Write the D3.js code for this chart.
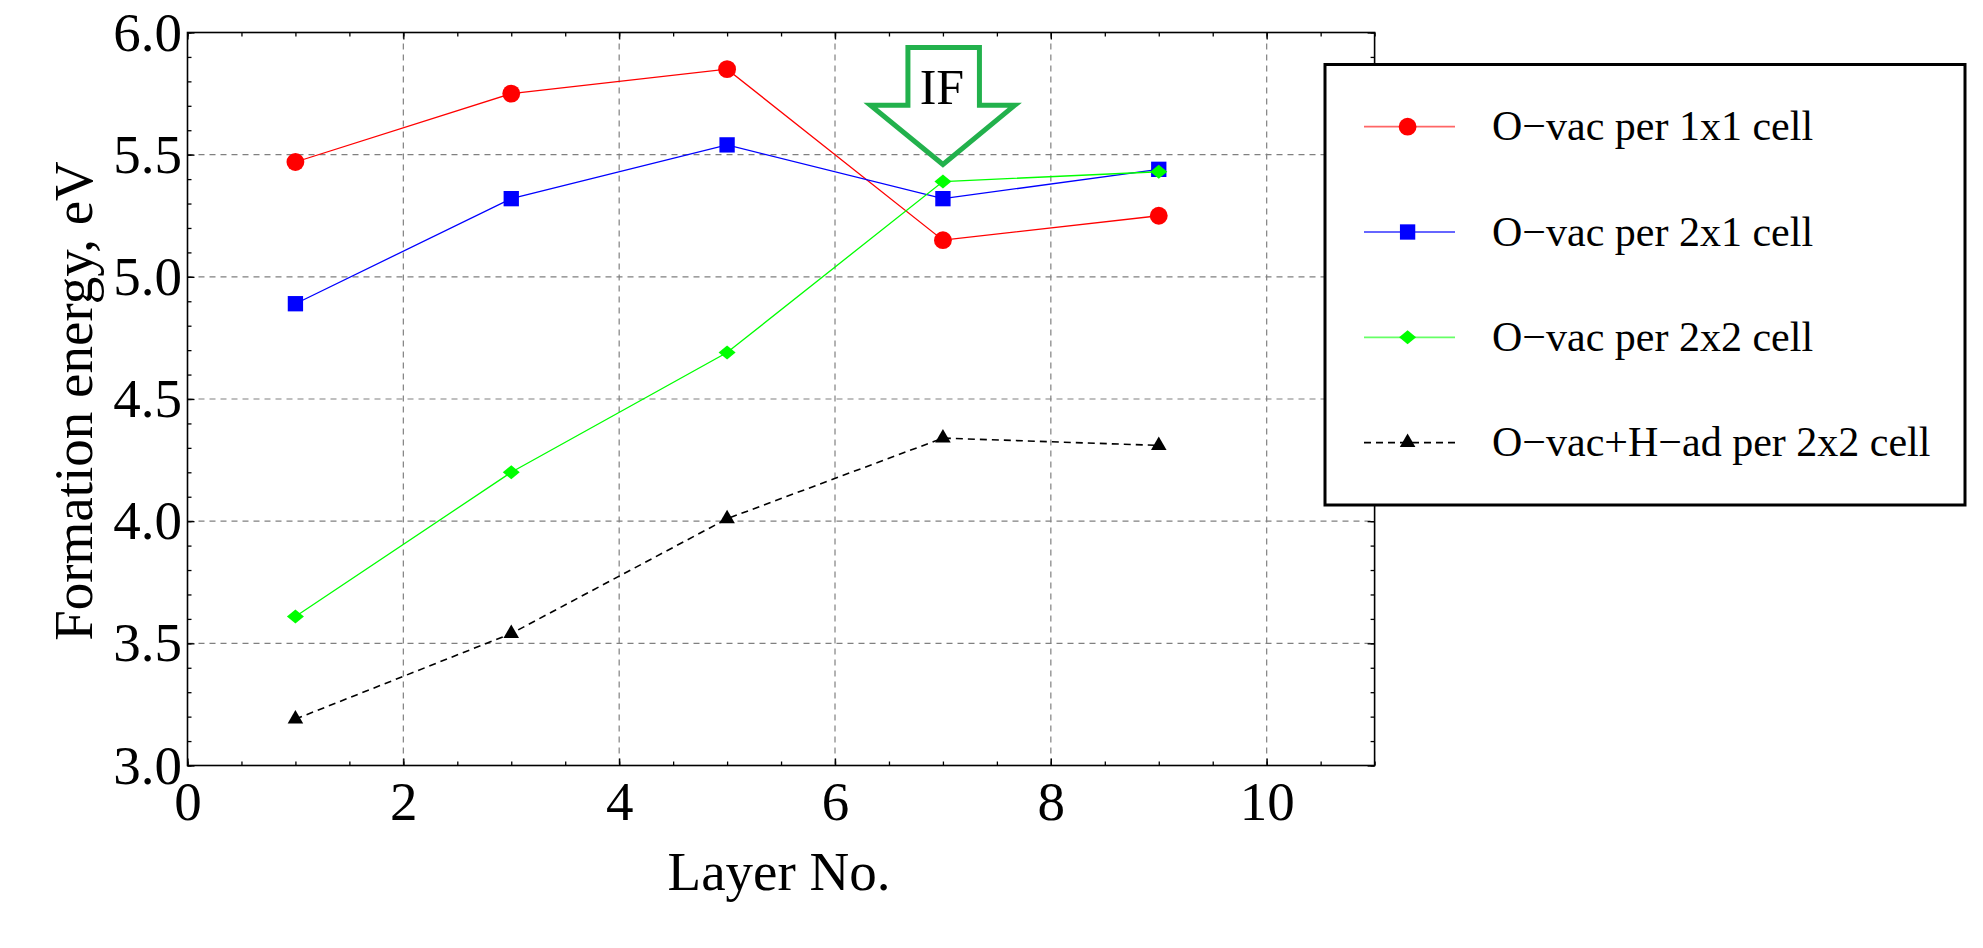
<html>
<head>
<script src="https://d3js.org/d3.v7.min.js"></script>
<style>
  body { margin: 0; background: #fff; }
  text { font-family: "Liberation Serif", "Times New Roman", serif; }
</style>
</head>
<body>
<svg width="1983" height="948"></svg>
<script>

// data
var layers = [1, 3, 5, 7, 9];
var vac1x1 = [5.47, 5.75, 5.85, 5.15, 5.25];
var vac2x1 = [4.89, 5.32, 5.54, 5.32, 5.44];
var vac2x2 = [3.61, 4.20, 4.69, 5.39, 5.43];
var vacH2x2 = [3.19, 3.54, 4.01, 4.34, 4.31];
var seriesNames = ["O\u2212vac per 1x1 cell", "O\u2212vac per 2x1 cell",
                   "O\u2212vac per 2x2 cell", "O\u2212vac+H\u2212ad per 2x2 cell"];
var xTicks = [0, 2, 4, 6, 8, 10];
var yTicks = [3.0, 3.5, 4.0, 4.5, 5.0, 5.5, 6.0];
var xGrid = [2, 4, 6, 8, 10];
var yGrid = [3.5, 4.0, 4.5, 5.0, 5.5];
var ifLayer = 7, ifEnergy = 5.46;

var plotLeft = 187.5, plotRight = 1374.6, plotTop = 32.5, plotBottom = 765.5;

var x = d3.scaleLinear().domain([0, 11]).range([plotLeft, plotRight]);
var y = d3.scaleLinear().domain([3, 6]).range([plotBottom, plotTop]);

var svg = d3.select("svg");

// grid
svg.append("g").selectAll("line").data(xGrid).enter().append("line")
    .attr("x1", d => x(d)).attr("x2", d => x(d))
    .attr("y1", plotTop).attr("y2", plotBottom)
    .style("stroke", "#808080").style("stroke-width", "1.2px")
    .style("stroke-dasharray", "6,5");
svg.append("g").selectAll("line").data(yGrid).enter().append("line")
    .attr("y1", d => y(d)).attr("y2", d => y(d))
    .attr("x1", plotLeft).attr("x2", plotRight)
    .style("stroke", "#808080").style("stroke-width", "1.2px")
    .style("stroke-dasharray", "6,5");

// frame ticks (inward), major + minor on all four sides
function styleAxis(g) {
    g.select(".domain").remove();
    g.selectAll("line").style("stroke", "#000").style("stroke-width", "1.3px");
    g.selectAll("text").style("font-family", "Liberation Serif")
        .style("font-size", "55px").style("fill", "#000");
}
var xMinor = d3.range(0, 11.01, 0.5);
var yMinor = d3.range(3, 6.001, 0.1);

svg.append("g").attr("transform", "translate(0," + plotBottom + ")")
    .call(d3.axisBottom(x).tickValues(xMinor).tickSizeInner(-4).tickSizeOuter(0).tickFormat(""))
    .call(styleAxis);
svg.append("g").attr("transform", "translate(0," + plotBottom + ")")
    .call(d3.axisBottom(x).tickValues(xTicks).tickSizeInner(-7).tickSizeOuter(0)
        .tickPadding(15.5).tickFormat(d3.format("d")))
    .call(styleAxis);
svg.append("g").attr("transform", "translate(0," + plotTop + ")")
    .call(d3.axisTop(x).tickValues(xMinor).tickSizeInner(-4).tickSizeOuter(0).tickFormat(""))
    .call(styleAxis);
svg.append("g").attr("transform", "translate(0," + plotTop + ")")
    .call(d3.axisTop(x).tickValues(xTicks).tickSizeInner(-7).tickSizeOuter(0).tickFormat(""))
    .call(styleAxis);

svg.append("g").attr("transform", "translate(" + plotLeft + ",0)")
    .call(d3.axisLeft(y).tickValues(yMinor).tickSizeInner(-4).tickSizeOuter(0).tickFormat(""))
    .call(styleAxis);
svg.append("g").attr("transform", "translate(" + plotLeft + ",0)")
    .call(d3.axisLeft(y).tickValues(yTicks).tickSizeInner(-7).tickSizeOuter(0)
        .tickPadding(5.5).tickFormat(d3.format(".1f")))
    .call(styleAxis);
svg.append("g").attr("transform", "translate(" + plotRight + ",0)")
    .call(d3.axisRight(y).tickValues(yMinor).tickSizeInner(-4).tickSizeOuter(0).tickFormat(""))
    .call(styleAxis);
svg.append("g").attr("transform", "translate(" + plotRight + ",0)")
    .call(d3.axisRight(y).tickValues(yTicks).tickSizeInner(-7).tickSizeOuter(0).tickFormat(""))
    .call(styleAxis);

svg.append("rect")
    .attr("x", plotLeft).attr("y", plotTop)
    .attr("width", plotRight - plotLeft).attr("height", plotBottom - plotTop)
    .style("fill", "none").style("stroke", "#000").style("stroke-width", "1.6px");

// axis titles
svg.append("text")
    .attr("text-anchor", "middle")
    .attr("x", (plotLeft + plotRight) / 2 - 2)
    .attr("y", 890)
    .style("font-size", "55px")
    .text("Layer No.");

svg.append("text")
    .attr("text-anchor", "middle")
    .attr("transform", "translate(92," + ((plotTop + plotBottom) / 2 + 2) + ") rotate(-90)")
    .style("font-size", "55px")
    .text("Formation energy, eV");

// series
var diamond = "M0,-7L8.5,0L0,7L-8.5,0Z";
var series = [
    { name: seriesNames[0], values: vac1x1, color: "#ff0000", dash: null,
      shape: d3.symbol().type(d3.symbolCircle).size(250)() },
    { name: seriesNames[1], values: vac2x1, color: "#0000ff", dash: null,
      shape: d3.symbol().type(d3.symbolSquare).size(235)() },
    { name: seriesNames[2], values: vac2x2, color: "#00ff00", dash: null,
      shape: diamond },
    { name: seriesNames[3], values: vacH2x2, color: "#000000", dash: "7,5",
      shape: d3.symbol().type(d3.symbolTriangle).size(105)() }
];

var line = d3.line()
    .x(function(d) { return x(d[0]); })
    .y(function(d) { return y(d[1]); });

series.forEach(function(s) {
    var pts = layers.map(function(l, i) { return [l, s.values[i]]; });
    svg.append("path")
        .datum(pts)
        .attr("d", line)
        .style("fill", "none")
        .style("stroke", s.color)
        .style("stroke-width", s.dash ? "1.6px" : "1.3px")
        .style("stroke-dasharray", s.dash);
    svg.append("g").selectAll("path").data(pts).enter().append("path")
        .attr("transform", function(d) { return "translate(" + x(d[0]) + "," + y(d[1]) + ")"; })
        .attr("d", s.shape)
        .style("fill", s.color);
});

// IF arrow annotation, tip at layer 7
var tipX = x(ifLayer), tipY = y(ifEnergy);
var arrow = [[-35, -117], [36.5, -117], [36.5, -59.3], [72, -59.3], [0, 0],
             [-72.5, -59.3], [-35, -59.3]];
svg.append("path")
    .attr("d", "M" + arrow.map(function(p) { return (tipX + p[0]) + "," + (tipY + p[1]); }).join("L") + "Z")
    .style("fill", "none")
    .style("stroke", "#22b14c")
    .style("stroke-width", "5px")
    .style("stroke-linejoin", "miter");
svg.append("text")
    .attr("text-anchor", "middle")
    .attr("x", tipX - 1)
    .attr("y", tipY - 60)
    .style("font-size", "50px")
    .text("IF");

// legend
var legend = svg.append("g");
legend.append("rect")
    .attr("x", 1325).attr("y", 64.5)
    .attr("width", 640).attr("height", 440.5)
    .style("fill", "#fff").style("stroke", "#000").style("stroke-width", "3px");

series.forEach(function(s, i) {
    var ly = 126.7 + i * 105.3;
    legend.append("line")
        .attr("x1", 1364).attr("x2", 1455)
        .attr("y1", ly).attr("y2", ly)
        .style("stroke", s.color)
        .style("stroke-opacity", s.dash ? 1 : 0.6)
        .style("stroke-width", "1.8px")
        .style("stroke-dasharray", s.dash);
    legend.append("path")
        .attr("transform", "translate(1407.6," + ly + ")")
        .attr("d", s.shape)
        .style("fill", s.color);
    legend.append("text")
        .attr("x", 1492)
        .attr("y", ly + 13.5)
        .style("font-size", "42px")
        .text(s.name);
});

</script>
</body>
</html>
